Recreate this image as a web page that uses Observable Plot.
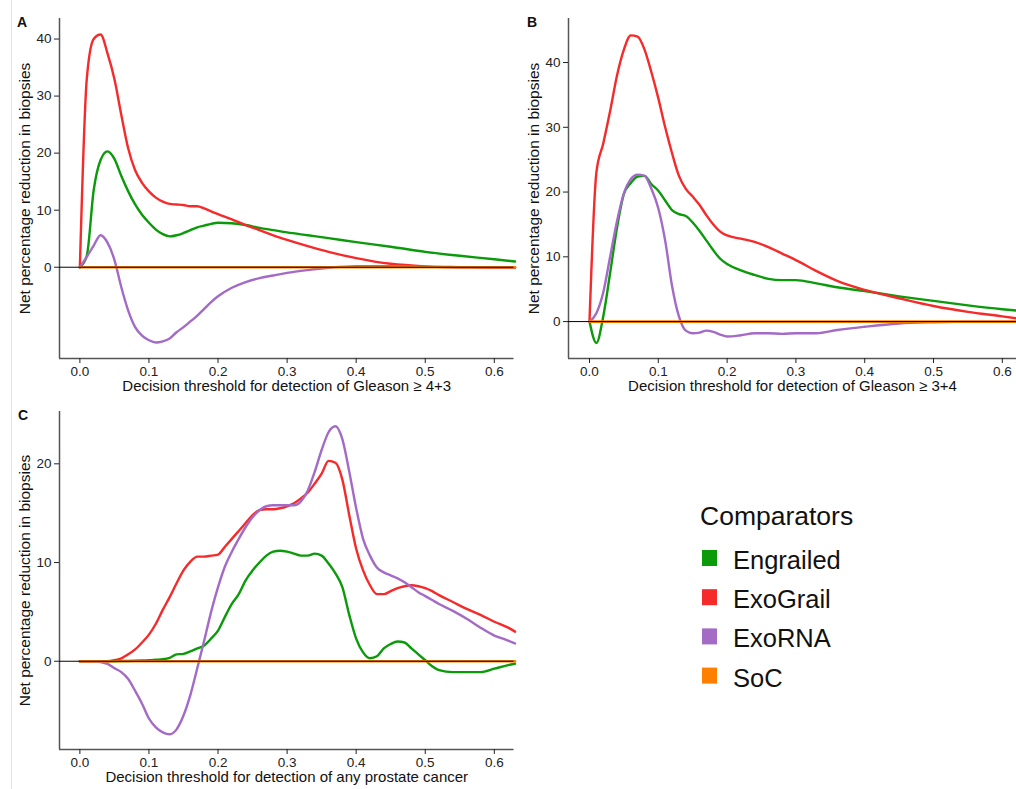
<!DOCTYPE html>
<html>
<head>
<meta charset="utf-8">
<script src="https://cdn.jsdelivr.net/npm/d3@7"></script>
<script src="https://cdn.jsdelivr.net/npm/@observablehq/plot@0.6"></script>
<style>
  html, body { margin: 0; padding: 0; background: #fff; overflow: hidden; }
  #page { position: relative; width: 1016px; height: 789px; font-family: "Liberation Sans", Arial, sans-serif; }
  .panel { position: absolute; }
  .letter { position: absolute; font-weight: bold; font-size: 14px; line-height: 14px; color: #111; }
  #edge { position: absolute; left: 11px; top: 0; width: 1px; height: 789px; background: #e2e2e2; }
</style>
</head>
<body>
<div id="page">
  <div id="edge"></div>
</div>
<script>
// ---------- data ----------
const comparators = ["Engrailed", "ExoGrail", "ExoRNA", "SoC"];
const comparatorColors = ["#0a9a0a", "#f52a2a", "#a36ac6", "#ff7f00"];
const xTicks = [0, 0.1, 0.2, 0.3, 0.4, 0.5, 0.6];
const yLabel = "Net percentage reduction in biopsies";

// Panel A: Gleason >= 4+3
const aThreshold = [0,.01,.02,.03,.04,.05,.06,.07,.08,.09,.10,.11,.12,.13,.14,.15,.16,.17,.18,.19,.20,.22,.24,.26,.28,.30,.33,.36,.40,.45,.50,.55,.60,.63];
const aEngrailed = [0,2.0,13.5,18.8,20.3, 19,16,13.3,11,9.2, 7.8,6.6,5.8,5.4,5.6, 6.0,6.5,7.0,7.3,7.6, 7.8, 7.7,7.4,6.9,6.5,6.1, 5.6,5.1,4.4,3.6,2.7, 2.0,1.4,1.0];
const aExoGrail  = [0,33,40,40.8,37.5, 33,26.7,20.8,17,14.8, 13.3,12.2,11.5,11.1,11.0, 10.9,10.7,10.7,10.3,9.8, 9.3, 8.4,7.4,6.5,5.6,4.8, 3.7,2.7,1.6,0.6,0.15, 0,-0.1,-0.1];
const aExoRNA    = [0,1.8,3.8,5.6,4.3, 1.3,-3.5,-7.6,-10.5,-12, -12.8,-13.2,-13,-12.5,-11.4, -10.5,-9.5,-8.5,-7.3,-6.1, -5.1, -3.6,-2.6,-1.9,-1.45,-1.0, -0.5,-0.1,0.2,0.2,0.1, 0,0,0];
const aYTicks = [0, 10, 20, 30, 40];

// Panel B: Gleason >= 3+4
const bThreshold = [0,.01,.02,.03,.04,.05,.06,.07,.08,.09,.10,.11,.12,.13,.14,.15,.16,.17,.18,.19,.20,.22,.24,.26,.28,.30,.33,.36,.40,.45,.50,.55,.60,.62];
const bEngrailed = [0,-3.3,0.8,7.5,14.5, 19.7,21.4,22.4,22.5,21.2, 20.2,18.7,17.2,16.6,16.3, 15.3,14,12.5,11,9.7, 8.9, 7.9,7.2,6.6,6.4,6.4, 5.9,5.3,4.7,3.9,3.2, 2.5,1.9,1.7];
const bExoGrail  = [0,23,27.5,32.5,38, 42,44.2,44,42,38.5, 34.5,30,26,22.5,20.5, 19.3,18,16.4,15,13.9, 13.3, 12.8,12.3,11.5,10.5,9.5, 7.8,6.3,4.9,3.6,2.4, 1.5,0.8,0.5];
const bExoRNA    = [0,1.3,4.5,10,15.5, 19.8,22,22.7,22.5,20.5, 17.5,12.5,5.5,0.8,-1.4, -1.8,-1.7,-1.4,-1.6,-2.0, -2.3, -2.1,-1.8,-1.8,-1.9,-1.8, -1.8,-1.3,-0.8,-0.3,-0.1, 0,0,0];
const bYTicks = [0, 10, 20, 30, 40];

// Panel C: any prostate cancer
const cThreshold = [0,.02,.04,
  .05,.06,.07,.08,.09, .10,.11,.12,.13,.14, .15,.16,.17,.18,.19, .20,.21,.22,.23,.24,
  .25,.26,.27,.28,.29, .30,.31,.32,.33,.34, .35,.36,.37,.38,.39, .40,.41,.42,.43,.44,
  .45,.46,.47,.48,.49, .50,.51,.52, .54,.56,.58,.60,.62,.63];
const cEngrailed = [0,0,0,
  0,0.02,0.03,0.05,0.07, 0.1,0.15,0.2,0.35,0.7, 0.75,1.0,1.3,1.6,2.3, 3.1,4.5,5.8,6.8,8.2,
  9.2,10.0,10.7,11.1,11.2, 11.1,10.9,10.7,10.7,10.9, 10.7,9.9,8.9,7.5,4.7, 2.3,0.9,0.3,0.5,1.3,
  1.75,2.0,1.9,1.3,0.7, 0.1,-0.5,-0.9, -1.1,-1.1,-1.1,-0.75,-0.4,-0.25];
const cExoGrail = [0,0,0,
  0.1,0.3,0.7,1.2,1.9, 2.7,3.8,5.2,6.5,7.9, 9.2,10.1,10.6,10.6,10.7, 10.8,11.6,12.4,13.2,14.0,
  14.8,15.3,15.4,15.4,15.5, 15.7,16.0,16.5,17.1,18.0, 19.0,20.3,20.1,18.4,14.8, 11.4,9.2,7.7,6.8,6.8,
  7.1,7.4,7.6,7.7,7.6, 7.4,7.1,6.7, 6.0,5.3,4.7,4.0,3.4,3.0];
const cExoRNA = [0,0,-0.27,
  -0.7,-1.1,-1.8,-3.0,-4.3, -5.8,-6.7,-7.2,-7.4,-6.9, -5.5,-3.4,-0.7,2.1,5.0, 7.5,9.6,11.1,12.4,13.6,
  14.6,15.3,15.7,15.8,15.8, 15.8,15.8,16.2,17.3,19.2, 21.4,23.2,23.8,22.5,19.2, 15.5,12.4,10.7,9.5,9.0,
  8.7,8.4,8.0,7.5,7.0, 6.6,6.2,5.8, 5.1,4.3,3.4,2.6,2.1,1.8];
const cYTicks = [0, 10, 20];

// ---------- drawing ----------
const page = document.getElementById("page");
const fmt = d3.format(".1f");

function makePanel(cfg) {
  const rows = [];
  [cfg.engrailed, cfg.exoGrail, cfg.exoRNA].forEach((vals, k) => {
    vals.forEach((v, i) => rows.push({threshold: cfg.threshold[i], net: v, comparator: comparators[k]}));
  });
  const soc = cfg.threshold.map(t => ({threshold: t, net: 0, comparator: "SoC"}));
  const chart = Plot.plot({
    width: cfg.width, height: cfg.height,
    marginTop: cfg.marginTop, marginBottom: cfg.marginBottom,
    marginLeft: cfg.marginLeft, marginRight: cfg.marginRight,
    x: {domain: cfg.xDomain},
    y: {domain: cfg.yDomain},
    color: {domain: comparators, range: comparatorColors},
    style: {fontFamily: "'Liberation Sans', Arial, sans-serif", fontSize: "13px", color: "#222", background: "transparent", overflow: "visible"},
    marks: [
      Plot.ruleX([cfg.xDomain[0]], {stroke: "#555", strokeWidth: 1.5}),
      Plot.ruleY([cfg.yDomain[0]], {stroke: "#555", strokeWidth: 1.5}),
      Plot.axisY({ticks: cfg.yTicks, tickSize: 5, tickPadding: 3, fontSize: 13.5, label: null}),
      Plot.axisX({ticks: xTicks, tickFormat: fmt, tickSize: 5, tickPadding: 3, fontSize: 13.5, label: null}),
      Plot.line(rows, {x: "threshold", y: "net", z: "comparator", stroke: "comparator", strokeWidth: 2.4, curve: "monotone-x"}),
      Plot.line(soc, {x: "threshold", y: "net", stroke: "comparator", strokeWidth: 2.6}),
      Plot.ruleY([0], {stroke: "black", strokeWidth: 1}),
      Plot.text([cfg.xLabel], {text: d => d, frameAnchor: "bottom", lineAnchor: "middle", textAnchor: "middle", dy: 28, fontSize: 15, fill: "#111"}),
      Plot.text([yLabel], {text: d => d, frameAnchor: "left", lineAnchor: "middle", textAnchor: "middle", rotate: -90, dx: -34, fontSize: 15.5, fill: "#111"})
    ]
  });
  chart.classList.add("panel");
  chart.style.left = cfg.left + "px";
  chart.style.top = cfg.top + "px";
  page.appendChild(chart);
  const letter = document.createElement("div");
  letter.className = "letter";
  letter.textContent = cfg.letter;
  letter.style.left = cfg.letterX + "px";
  letter.style.top = cfg.letterY + "px";
  page.appendChild(letter);
}

makePanel({
  letter: "A", letterX: 17, letterY: 15,
  left: 0, top: 0, width: 515, height: 400,
  marginTop: 18, marginBottom: 42, marginLeft: 59, marginRight: 1.5,
  xDomain: [-0.0295, 0.6285], yDomain: [-16, 43.6], yTicks: aYTicks,
  threshold: aThreshold, engrailed: aEngrailed, exoGrail: aExoGrail, exoRNA: aExoRNA,
  xLabel: "Decision threshold for detection of Gleason \u2265 4+3"
});

makePanel({
  letter: "B", letterX: 527, letterY: 15,
  left: 509, top: 0, width: 507, height: 400,
  marginTop: 18, marginBottom: 42, marginLeft: 59, marginRight: 0,
  xDomain: [-0.0305, 0.6206], yDomain: [-5.7, 46.8], yTicks: bYTicks,
  threshold: bThreshold, engrailed: bEngrailed, exoGrail: bExoGrail, exoRNA: bExoRNA,
  xLabel: "Decision threshold for detection of Gleason \u2265 3+4"
});

makePanel({
  letter: "C", letterX: 18, letterY: 408,
  left: 0, top: 390, width: 515, height: 399,
  marginTop: 21, marginBottom: 40, marginLeft: 59, marginRight: 1.5,
  xDomain: [-0.0295, 0.6285], yDomain: [-8.94, 25.3], yTicks: cYTicks,
  threshold: cThreshold, engrailed: cEngrailed, exoGrail: cExoGrail, exoRNA: cExoRNA,
  xLabel: "Decision threshold for detection of any prostate cancer"
});

// ---------- legend ----------
const legend = d3.select(page).append("svg")
  .attr("class", "panel")
  .style("left", "690px").style("top", "490px")
  .attr("width", 240).attr("height", 210)
  .style("font-family", "'Liberation Sans', Arial, sans-serif");
legend.append("text").attr("x", 10).attr("y", 35).attr("font-size", 26.5).attr("fill", "#111").text("Comparators");
comparators.forEach((name, i) => {
  const g = legend.append("g").attr("transform", `translate(0,${79 + i * 39.2})`);
  g.append("rect").attr("x", 12).attr("y", -19).attr("width", 15).attr("height", 16).attr("fill", comparatorColors[i]);
  g.append("text").attr("x", 43).attr("y", 0).attr("font-size", 25.5).attr("fill", "#111").text(name);
});
</script>
</body>
</html>
